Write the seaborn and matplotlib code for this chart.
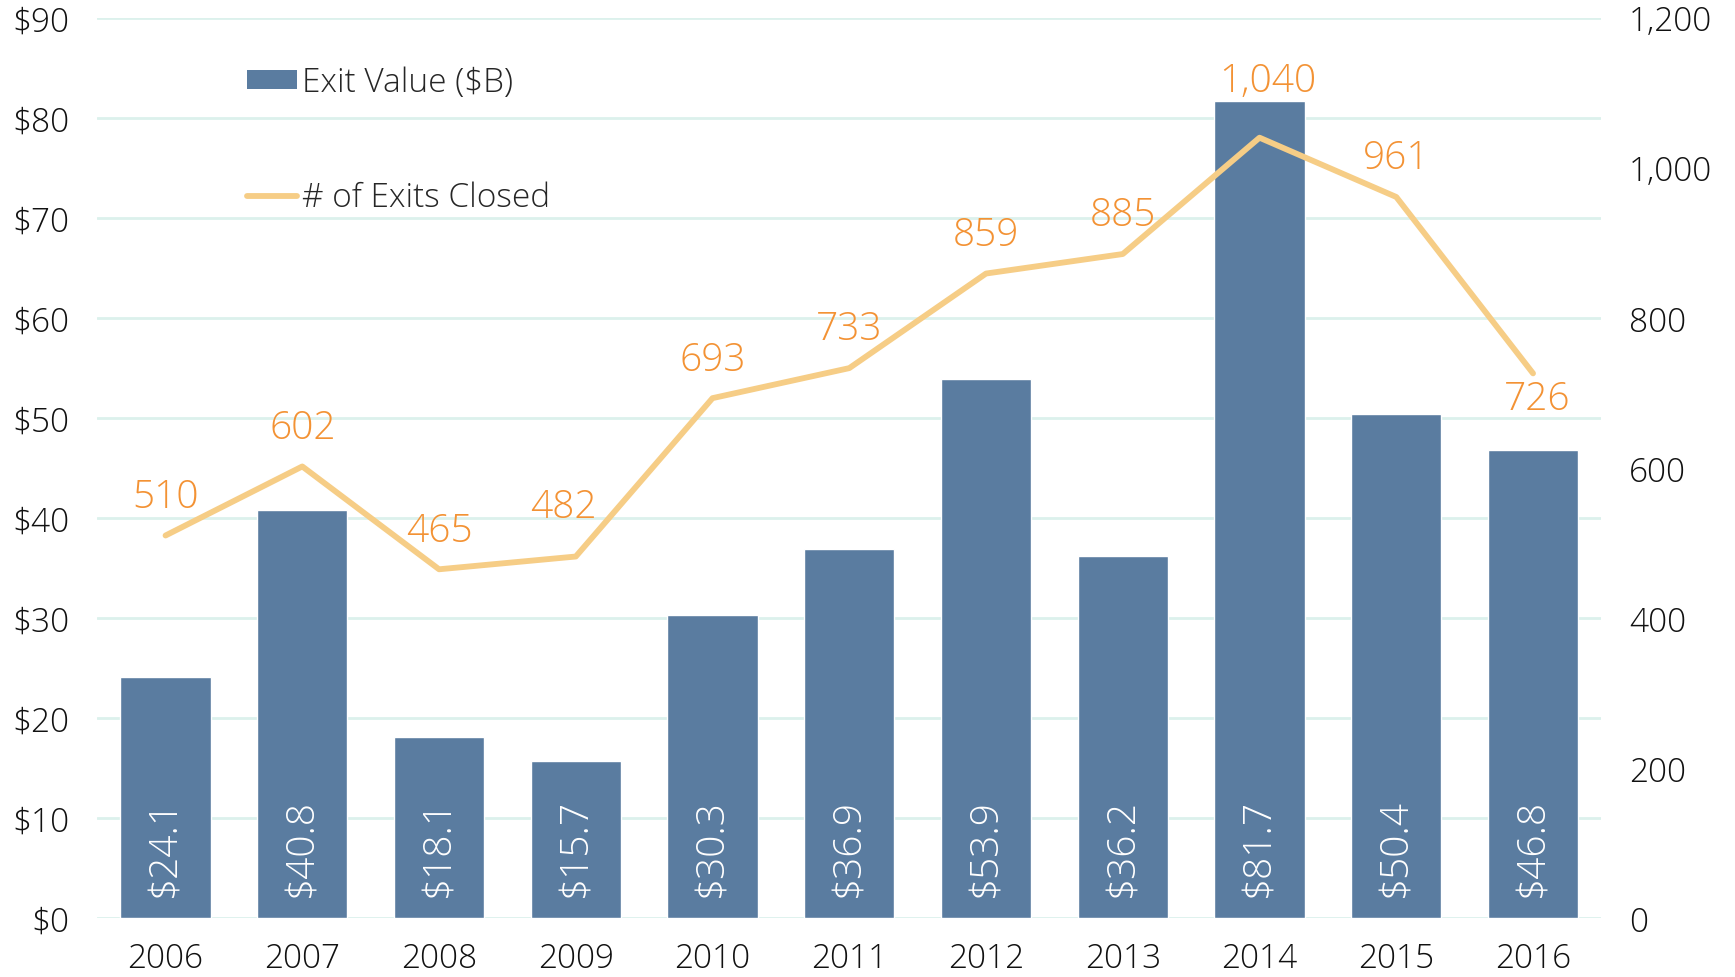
import numpy as np
import pandas as pd
import matplotlib.pyplot as plt
from matplotlib.patches import Patch
from matplotlib.lines import Line2D
from matplotlib.ticker import FuncFormatter, MultipleLocator
import seaborn as sns

sns.set_theme(style="white")
plt.rcParams["font.family"] = ["Open Sans", "DejaVu Sans"]
plt.rcParams["font.weight"] = 300

years = ["2006", "2007", "2008", "2009", "2010", "2011",
         "2012", "2013", "2014", "2015", "2016"]
exit_value = [24.1, 40.8, 18.1, 15.7, 30.3, 36.9, 53.9, 36.2, 81.7, 50.4, 46.8]
exits_closed = [510, 602, 465, 482, 693, 733, 859, 885, 1040, 961, 726]

df = pd.DataFrame({"year": years, "value": exit_value, "count": exits_closed})

BAR = "#5a7ca0"
LINE = "#f6cd86"
LABEL = "#f39234"
GRID = "#dcf1ec"

# per-label nudges (points) so the count labels sit like the original
label_dx = [0, 0, 0, -9, 0, 0, 0, 0, 6, 0, 3]
label_dy = [28, 28, 28, 36, 28, 28, 28, 28, 41, 28, -18]

fig = plt.figure(figsize=(17.35, 9.78), dpi=100)
ax = fig.add_axes([0.056, 0.060, 0.867, 0.921])

sns.barplot(data=df, x="year", y="value", color=BAR, saturation=1,
            width=0.66, ax=ax, zorder=2)
ax.set_ylim(0, 90)
ax.set_xlim(-0.5, len(years) - 0.5)
ax.yaxis.set_major_locator(MultipleLocator(10))
ax.yaxis.set_major_formatter(FuncFormatter(lambda v, p: f"${v:.0f}"))
ax.grid(axis="y", color=GRID, linewidth=2)
ax.set_axisbelow(True)
ax.set_xlabel("")
ax.set_ylabel("")
sns.despine(ax=ax, left=True, bottom=True)
ax.tick_params(axis="both", length=0, labelsize=24, colors="#111111")
ax.tick_params(axis="y", pad=20)
ax.tick_params(axis="x", pad=17)

for bar, v in zip(ax.patches, exit_value):
    ax.annotate(f"${v}", xy=(bar.get_x() + bar.get_width() / 2, 0),
                xytext=(0, 16), textcoords="offset points",
                rotation=90, ha="center", va="bottom",
                color="white", fontsize=28)

ax2 = ax.twinx()
sns.lineplot(data=df, x="year", y="count", color=LINE, linewidth=4.2,
             ax=ax2, zorder=3)
ax2.set_ylim(0, 1200)
ax2.yaxis.set_major_locator(MultipleLocator(200))
ax2.yaxis.set_major_formatter(FuncFormatter(lambda v, p: f"{v:,.0f}"))
ax2.set_ylabel("")
ax2.grid(False)
for s in ax2.spines.values():
    s.set_visible(False)
ax2.tick_params(axis="y", length=0, labelsize=24, colors="#111111", pad=20)

for i, c in enumerate(exits_closed):
    ax2.annotate(f"{c:,}", xy=(i, c), xytext=(label_dx[i], label_dy[i]),
                 textcoords="offset points", ha="center", va="center",
                 color=LABEL, fontsize=28)

handles = [Patch(facecolor=BAR, edgecolor="none"),
           Line2D([0], [0], color=LINE, linewidth=4.2)]
ax2.legend(handles, ["Exit Value ($B)", "# of Exits Closed"],
           loc="upper left", bbox_to_anchor=(0.08, 0.98), frameon=False,
           fontsize=24, labelspacing=2.45, handlelength=1.5,
           handletextpad=0.15, handleheight=0.5)

fig.savefig("out.png", dpi=100, facecolor="white")
